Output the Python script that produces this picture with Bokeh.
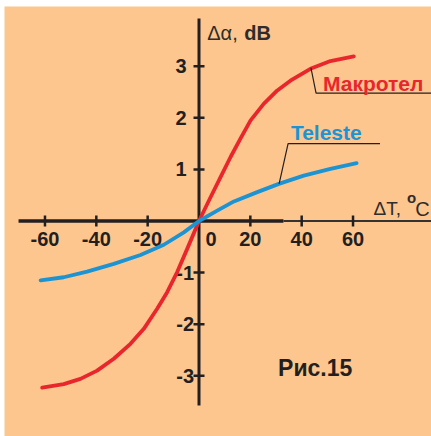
import math
from bokeh.plotting import figure
from bokeh.models import Range1d
from bokeh.core.properties import value
from bokeh.embed import file_html
from bokeh.resources import INLINE

# ---- data ----
makrotel_x = [-61.1, -52.7, -46.2, -39.7, -33.2, -26.7, -21.5, -16.3, -12.4, -8.5, -4.6, 0,
              4.5, 8.4, 12.3, 16.2, 20.1, 25.2, 30.5, 35.6, 43.4, 51.2, 60.3]
makrotel_y = [-3.23, -3.16, -3.06, -2.90, -2.67, -2.38, -2.09, -1.70, -1.38, -0.99, -0.54, 0,
              0.46, 0.85, 1.24, 1.60, 1.95, 2.27, 2.53, 2.72, 2.95, 3.10, 3.19]
teleste_x = [-61.7, -52.7, -43.6, -33.2, -22.8, -13.7, -5.9, 0,
             7.1, 13.6, 22.7, 31.1, 40.8, 51.2, 61.4]
teleste_y = [-1.15, -1.09, -0.98, -0.83, -0.66, -0.46, -0.22, 0,
             0.20, 0.38, 0.56, 0.72, 0.88, 1.01, 1.12]
x_ticks = [-60, -40, -20, 20, 40, 60]
y_ticks = [-3, -2, -1, 1, 2, 3]
x_tick_labels = ["-60", "-40", "-20", "20", "40", "60"]
y_tick_labels = ["-3", "-2", "-1", "1", "2", "3"]

# ---- styles ----
BG = "#FCC68E"
RED = "#E8262C"
BLUE = "#1C94D4"
INK = "#231F20"
GREY = "#2E2C2C"
FONT = value("Liberation Sans")

X_RANGE = (-75.77, 90.57)
Y_RANGE = (-4.176, 4.157)

p = figure(width=431, height=436, x_range=Range1d(*X_RANGE), y_range=Range1d(*Y_RANGE),
           output_backend="svg", toolbar_location=None,
           x_axis_type=None, y_axis_type=None,
           background_fill_color=BG, border_fill_color="white",
           outline_line_color=None)
p.min_border = 0
p.min_border_left = 4
p.min_border_top = 6

# axes lines
p.segment(x0=[0], y0=[-3.576], x1=[0], y1=[3.924], line_color=INK, line_width=3)
p.segment(x0=[-70.3], y0=[0], x1=[32.9], y1=[0], line_color=INK, line_width=3.5)
p.segment(x0=[32.9], y0=[0], x1=[X_RANGE[1]], y1=[0], line_color="#333333", line_width=2)

# tick marks
p.scatter(x=x_ticks, y=[0] * len(x_ticks), marker="dash", size=11, angle=math.pi / 2,
          line_color=INK, line_width=2.5)
p.scatter(x=[0] * len(y_ticks), y=y_ticks, marker="dash", size=11,
          line_color=INK, line_width=2.5)

# tick labels
p.text(x=x_ticks, y=[0] * len(x_ticks), text=x_tick_labels, text_align="center",
       text_baseline="middle", y_offset=18, text_font=FONT, text_font_style="bold",
       text_font_size="20px", text_color=INK)
p.text(x=[0], y=[0], text=["0"], text_align="center", text_baseline="middle",
       x_offset=12, y_offset=18, text_font=FONT, text_font_style="bold",
       text_font_size="20px", text_color=INK)
pos = [(t, l) for t, l in zip(y_ticks, y_tick_labels) if t > 0]
neg = [(t, l) for t, l in zip(y_ticks, y_tick_labels) if t < 0]
p.text(x=[0] * len(pos), y=[t for t, _ in pos], text=[l for _, l in pos], text_align="right",
       text_baseline="middle", x_offset=-12.5, text_font=FONT, text_font_style="bold",
       text_font_size="20px", text_color=INK)
p.text(x=[0] * len(neg), y=[t for t, _ in neg], text=[l for _, l in neg], text_align="right",
       text_baseline="middle", x_offset=-5, text_font=FONT, text_font_style="bold",
       text_font_size="20px", text_color=INK)

# curves
p.line(makrotel_x, makrotel_y, line_color=RED, line_width=3.8, line_join="round", line_cap="round")
p.line(teleste_x, teleste_y, line_color=BLUE, line_width=3.8, line_join="round", line_cap="round")

# leader lines
p.line([43.6, 45.6, X_RANGE[1]], [2.97, 2.48, 2.48], line_color=INK, line_width=1.2)
p.line([31.2, 34.7, 70.5], [0.72, 1.50, 1.50], line_color=INK, line_width=1.2)

# series labels
p.text(x=[48.3], y=[2.66], text=["Макротел"], text_align="left", text_baseline="middle",
       text_font=FONT, text_font_style="bold", text_font_size="21px", text_color=RED)
p.text(x=[35.8], y=[1.71], text=["Teleste"], text_align="left", text_baseline="middle",
       text_font=FONT, text_font_style="bold", text_font_size="21px", text_color=BLUE)
p.text(x=[30.8], y=[-2.85], text=["Рис.15"], text_align="left", text_baseline="middle",
       text_font=FONT, text_font_style="bold", text_font_size="23px", text_color=INK)

# axis titles
p.text(x=[3.2], y=[3.65], text=["Δα,"], text_align="left", text_baseline="middle",
       text_font=FONT, text_font_size="20px", text_color=GREY)
p.text(x=[17.6], y=[3.65], text=["dB"], text_align="left", text_baseline="middle",
       text_font=FONT, text_font_style="bold", text_font_size="20px", text_color=GREY)
p.text(x=[68.0], y=[0.24], text=["ΔT,"], text_align="left", text_baseline="middle",
       text_font=FONT, text_font_size="19px", text_color=GREY)
p.text(x=[81.0], y=[0.46], text=["o"], text_align="left", text_baseline="middle",
       text_font=FONT, text_font_style="bold", text_font_size="15px", text_color=GREY)
p.text(x=[84.2], y=[0.24], text=["C"], text_align="left", text_baseline="middle",
       text_font=FONT, text_font_size="20px", text_color=GREY)

open("out.html", "w").write(file_html(p, INLINE))
